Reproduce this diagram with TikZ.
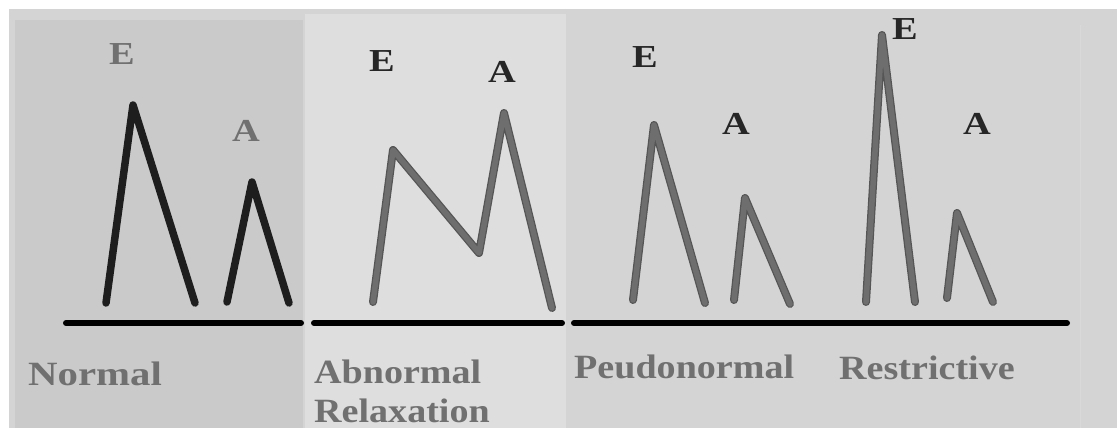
\documentclass[tikz,border=0pt]{standalone}
\usepackage{fontspec}
\setmainfont{Liberation Serif}
\newfontfamily\widefont{Liberation Serif}[FakeStretch=1.12]
\newfontfamily\widerfont{Liberation Serif}[FakeStretch=1.2]
\definecolor{bgc}{HTML}{D4D4D4}
\definecolor{normc}{HTML}{CACACA}
\definecolor{abnc}{HTML}{DEDEDE}
\definecolor{darkline}{HTML}{1E1E1E}
\definecolor{grayline}{HTML}{6E6E6E}
\definecolor{grayedge}{HTML}{555555}
\definecolor{labgray}{HTML}{707070}
\definecolor{labdark}{HTML}{262626}
\tikzset{
  wavedark/.style={draw=darkline,line width=7.5pt,line join=round,line cap=round},
  waveedge/.style={draw=grayedge,line width=8pt,line join=round,line cap=round},
  wavegray/.style={draw=grayline,line width=5.5pt,line join=round,line cap=round},
  axis/.style={draw=black,line width=6pt,line cap=round},
  peaklab/.style={font=\widerfont\bfseries\fontsize{32}{34}\selectfont,text=labdark,inner sep=0pt},
  peaklabgray/.style={peaklab,text=labgray},
  typelab/.style={font=\widefont\bfseries\fontsize{34}{38}\selectfont,text=labgray,inner sep=0pt,anchor=base west},
  typelabwide/.style={typelab,font=\widerfont\bfseries\fontsize{34}{38}\selectfont}
}
\begin{document}
\begin{tikzpicture}[x=1pt,y=-1pt]
\useasboundingbox (0,0) rectangle (1117,428);
\fill[white] (0,0) rectangle (1117,428);
\fill[bgc] (9,9) rectangle (1117,428);
\fill[normc] (15,20) rectangle (303,428);
\fill[abnc] (305,14) rectangle (566,428);
\draw[draw=black!15,line width=1pt] (1080,25) -- (1080,428);
% baselines
\coordinate (n0) at (66,323);
\coordinate (n1) at (301,323);
\coordinate (r0) at (314,323);
\coordinate (r1) at (562,323);
\coordinate (p0) at (574,323);
\coordinate (p1) at (1067,323);
\draw[axis] (n0) -- (n1);
\draw[axis] (r0) -- (r1);
\draw[axis] (p0) -- (p1);
% Normal
\draw[wavedark] (106,303) -- (133,105) -- (195,303);
\draw[wavedark] (227,302) -- (252,182) -- (289,303);
\node[peaklabgray] (nE) at (122,54) {E};
\node[peaklabgray] (nA) at (246,131) {A};
% Abnormal relaxation
\draw[waveedge] (373,302) -- (393,150) -- (479,253) -- (504,113) -- (552,308);
\draw[wavegray] (373,302) -- (393,150) -- (479,253) -- (504,113) -- (552,308);
\node[peaklab] (aE) at (382,61) {E};
\node[peaklab] (aA) at (502,72) {A};
% Pseudonormal
\draw[waveedge] (633,300) -- (654,125) -- (705,303);
\draw[wavegray] (633,300) -- (654,125) -- (705,303);
\draw[waveedge] (734,300) -- (745,198) -- (790,304);
\draw[wavegray] (734,300) -- (745,198) -- (790,304);
\node[peaklab] (pE) at (645,57) {E};
\node[peaklab] (pA) at (736,124) {A};
% Restrictive
\draw[waveedge] (866,302) -- (882,35) -- (915,302);
\draw[wavegray] (866,302) -- (882,35) -- (915,302);
\draw[waveedge] (947,298) -- (957,213) -- (993,302);
\draw[wavegray] (947,298) -- (957,213) -- (993,302);
\node[peaklab] (sE) at (905,29) {E};
\node[peaklab] (sA) at (977,124) {A};
% type labels
\node[typelabwide] (tn) at (28,385) {Normal};
\node[typelab] (ta1) at (314,383) {Abnormal};
\node[typelab] (ta2) at (314,422) {Relaxation};
\node[typelab] (tp) at (574,378) {Peudonormal};
\node[typelab] (ts) at (839,379) {Restrictive};
\end{tikzpicture}
\end{document}
